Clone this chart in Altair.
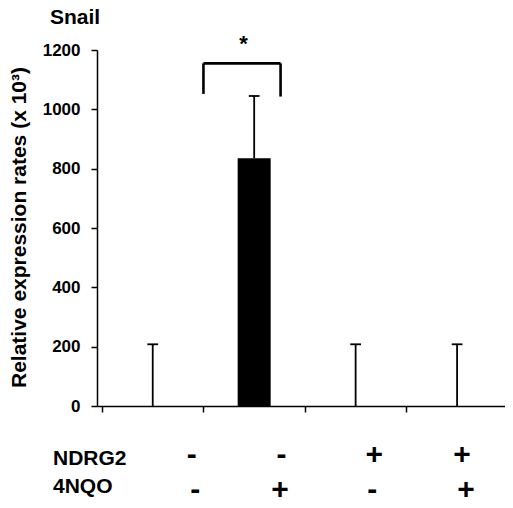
import altair as alt
import pandas as pd

# ---- data ----
ndrg2 = ["-", "-", "+", "+"]
nqo = ["-", "+", "-", "+"]
means = [0, 835, 0, 0]
errs = [208, 210, 208, 208]
y_ticks = [0, 200, 400, 600, 800, 1000, 1200]

# annotation anchors (in x-band units)
ndrg2_x = [0.885, 1.77, 2.683, 3.548]
nqo_x = [0.918, 1.755, 2.663, 3.587]
bracket_x = [1.0, 1.76]
bracket_top = 1155
bracket_bottom = [1052, 1043]
star_x = 1.394

FONT = "Liberation Sans"

df = pd.DataFrame({
    "pos": [i + 0.5 for i in range(len(means))],
    "mean": means,
    "top": [m + e for m, e in zip(means, errs)],
})
df["capl"] = df["pos"] - 0.053
df["capr"] = df["pos"] + 0.053

br_h = pd.DataFrame({"x1": [bracket_x[0]], "x2": [bracket_x[1]], "y": [bracket_top]})
br_v = pd.DataFrame({"x": bracket_x, "y1": [bracket_top, bracket_top], "y2": bracket_bottom})
s1 = pd.DataFrame({"x": ndrg2_x, "t": ndrg2})
s2 = pd.DataFrame({"x": nqo_x, "t": nqo})
star = pd.DataFrame({"x": [star_x], "t": ["*"]})

PW = 408  # plot width (px); 104 px per group band
xscale = alt.Scale(domain=[0, PW / 104], nice=False, zero=False)
yscale = alt.Scale(domain=[0, 1200], nice=False)
xaxis = alt.Axis(values=[0, 1, 2, 3], labels=False, title=None, grid=False,
                 tickSize=6, tickWidth=1.5, tickColor="black",
                 domainColor="black", domainWidth=1.5)
YT = "Relative expression rates (x 10³)"
yaxis = alt.Axis(values=y_ticks, format="d", title=YT, grid=False, tickSize=6, tickWidth=1.5,
                 tickColor="black", domainColor="black", domainWidth=1.5,
                 labelFont=FONT, labelFontSize=17, labelFontWeight="bold",
                 labelColor="black", labelPadding=11,
                 titleFont=FONT, titleFontSize=21, titleFontWeight="bold",
                 titleColor="black", titleX=-72, titleY=177,
                 titleBaseline="alphabetic", titleAlign="center", titleAngle=-90)


def X(f):
    return alt.X(f, scale=xscale, axis=xaxis)


def Y(f):
    return alt.Y(f, scale=yscale, axis=yaxis)


bars = alt.Chart(df).transform_filter("datum.mean > 0").mark_bar(
    color="black", size=33, orient="vertical").encode(x=X("pos:Q"), y=Y("mean:Q"))
err = alt.Chart(df).mark_rule(color="black", strokeWidth=1.8).encode(
    x=X("pos:Q"), y=Y("mean:Q"), y2="top:Q")
caps = alt.Chart(df).mark_rule(color="black", strokeWidth=1.8).encode(
    x=X("capl:Q"), x2="capr:Q", y=Y("top:Q"))
bh = alt.Chart(br_h).mark_rule(color="black", strokeWidth=2.6).encode(
    x=X("x1:Q"), x2="x2:Q", y=Y("y:Q"))
bv = alt.Chart(br_v).mark_rule(color="black", strokeWidth=2.6).encode(
    x=X("x:Q"), y=Y("y1:Q"), y2="y2:Q")
st = alt.Chart(star).mark_text(font=FONT, fontSize=22, fontWeight="bold",
                               baseline="alphabetic", align="center", color="black").encode(
    x=X("x:Q"), y=alt.value(1), text="t:N")
t1 = alt.Chart(s1).mark_text(font=FONT, fontSize=30, fontWeight="bold",
                             baseline="alphabetic", align="center", color="black").encode(
    x=X("x:Q"), y=alt.value(414), text="t:N")
t2 = alt.Chart(s2).mark_text(font=FONT, fontSize=30, fontWeight="bold",
                             baseline="alphabetic", align="center", color="black").encode(
    x=X("x:Q"), y=alt.value(449), text="t:N")
labels = alt.Chart(pd.DataFrame({"t": ["NDRG2", "4NQO"], "yy": [415, 443]})).mark_text(
    font=FONT, fontSize=21, fontWeight="bold", baseline="alphabetic", align="left",
    color="black").encode(x=alt.value(-44), y=alt.Y("yy:Q", scale=None), text="t:N")
title = alt.Chart(pd.DataFrame({"t": ["Snail"]})).mark_text(
    font=FONT, fontSize=21, fontWeight="bold", baseline="alphabetic", align="left",
    color="black").encode(x=alt.value(-47), y=alt.value(-26.5), text="t:N")

chart = alt.layer(bars, err, caps, bh, bv, st, t1, t2, labels, title).properties(
    width=PW, height=356,
    autosize=alt.AutoSizeParams(type="none"),
    padding={"left": 89, "top": 42, "right": 0, "bottom": 92},
    background="white",
).configure_view(stroke=None)

chart.save("out.html", embed_options={"renderer": "svg", "actions": False})
